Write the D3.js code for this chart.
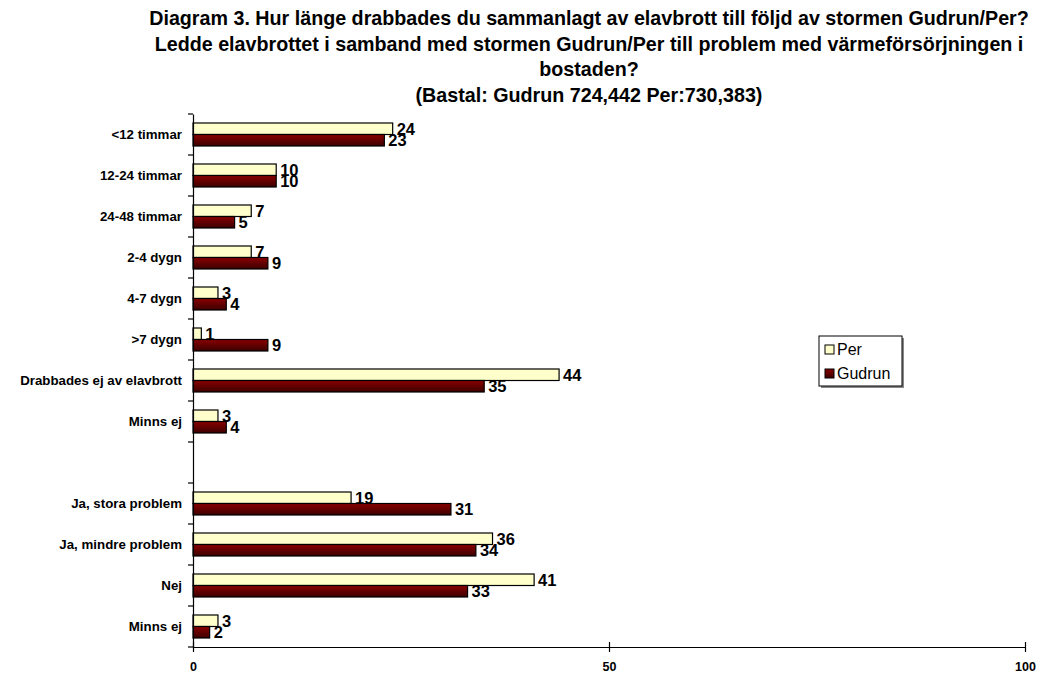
<!DOCTYPE html>
<html><head><meta charset="utf-8">
<script src="https://cdn.jsdelivr.net/npm/d3@7"></script>
<style>body{margin:0;background:#fff}svg{display:block;font-family:Arial,"Liberation Sans",sans-serif}</style>
</head><body>
<svg id="c" width="1045" height="675"></svg>
<script>
const categories = ["<12 timmar","12-24 timmar","24-48 timmar","2-4 dygn","4-7 dygn",">7 dygn","Drabbades ej av elavbrott","Minns ej","","Ja, stora problem","Ja, mindre problem","Nej","Minns ej"];
const perValues =    [24,10,7,7,3,1,44,3,null,19,36,41,3];
const gudrunValues = [23,10,5,9,4,9,35,4,null,31,34,33,2];
const xTicks = [0,50,100];
const titleLines = ["Diagram 3. Hur länge drabbades du sammanlagt av elavbrott till följd av stormen Gudrun/Per?","Ledde elavbrottet i samband med stormen Gudrun/Per till problem med värmeförsörjningen i","bostaden?","(Bastal: Gudrun 724,442 Per:730,383)"];
const seriesNames = ["Per","Gudrun"];

(function(){
const svg = d3.select("#c");
const defs = svg.append("defs");
const g1 = defs.append("linearGradient").attr("id","gud").attr("x1",0).attr("y1",0).attr("x2",0).attr("y2",1);
g1.append("stop").attr("offset","0%").attr("stop-color","#8a0000");
g1.append("stop").attr("offset","100%").attr("stop-color","#3c0000");

const pl = 193, pr = 1025, pt = 114, pb = 647;
const x = d3.scaleLinear().domain([0,100]).range([pl,pr]);
const keys = categories.map((c,i)=>i);
const y = d3.scaleBand().domain(keys).range([pt,pb]).paddingInner(0).paddingOuter(0);
const inner = d3.scaleBand().domain(seriesNames).range([0,23]);
const off = (y.bandwidth()-23)/2;

// title
const t = svg.append("g").attr("font-weight","bold").attr("font-size",19.7).attr("text-anchor","middle");
titleLines.forEach((l,i)=>t.append("text").attr("x",589).attr("y",25+i*25.5).text(l));

// bars
const data = [];
categories.forEach((c,i)=>{
  if (perValues[i]!=null) data.push({i, s:"Per", v:perValues[i]});
  if (gudrunValues[i]!=null) data.push({i, s:"Gudrun", v:gudrunValues[i]});
});
const bars = svg.append("g");
bars.selectAll("rect").data(data).join("rect")
  .attr("x",x(0)).attr("y",d=>y(d.i)+off+inner(d.s))
  .attr("width",d=>x(d.v)-x(0)).attr("height",inner.bandwidth())
  .attr("fill",d=>d.s==="Per"?"#ffffcc":"url(#gud)")
  .attr("stroke","#000").attr("stroke-width",1.2);
bars.selectAll("text").data(data).join("text")
  .attr("x",d=>x(d.v)+4).attr("y",d=>y(d.i)+off+inner(d.s)+inner.bandwidth()/2)
  .attr("dy","0.36em").attr("font-weight","bold").attr("font-size",16.5)
  .text(d=>d.v);

// y axis
const yAxis = d3.axisLeft(y).tickSize(0).tickFormat(i=>categories[i]);
const ya = svg.append("g").attr("transform",`translate(${pl},0)`).call(yAxis);
ya.select(".domain").attr("stroke","#000").attr("stroke-width",1.2);
ya.selectAll(".tick text").attr("x",-11).attr("font-weight","bold").attr("font-size",13.3).attr("font-family","Arial, 'Liberation Sans', sans-serif").attr("fill","#000");
// category boundary ticks
svg.append("g").selectAll("line").data(d3.range(categories.length+1)).join("line")
  .attr("x1",pl-5).attr("x2",pl).attr("y1",i=>pt+i*y.step()).attr("y2",i=>pt+i*y.step())
  .attr("stroke","#000").attr("stroke-width",1.2);

// x axis
const xAxis = d3.axisBottom(x).tickValues(xTicks).tickSize(5).tickSizeOuter(0).tickPadding(10);
const xa = svg.append("g").attr("transform",`translate(0,${pb})`).call(xAxis);
xa.select(".domain").attr("stroke","#000").attr("stroke-width",1.2);
xa.selectAll(".tick line").attr("y1",-5).attr("stroke","#000").attr("stroke-width",1.2);
xa.selectAll(".tick text").attr("font-weight","bold").attr("font-size",12.5).attr("font-family","Arial, 'Liberation Sans', sans-serif").attr("fill","#000");

// legend
const lg = svg.append("g").attr("transform","translate(819,336)");
lg.append("rect").attr("x",2).attr("y",2).attr("width",83).attr("height",50).attr("fill","#888");
lg.append("rect").attr("width",83).attr("height",50).attr("fill","#fff").attr("stroke","#000").attr("stroke-width",1);
seriesNames.forEach((s,i)=>{
  lg.append("rect").attr("x",6).attr("y",9+i*24).attr("width",9).attr("height",9)
    .attr("fill",s==="Per"?"#ffffcc":"url(#gud)").attr("stroke","#000").attr("stroke-width",1);
  lg.append("text").attr("x",18).attr("y",19+i*24).attr("font-size",16).text(s);
});
})();
</script>
</body></html>
